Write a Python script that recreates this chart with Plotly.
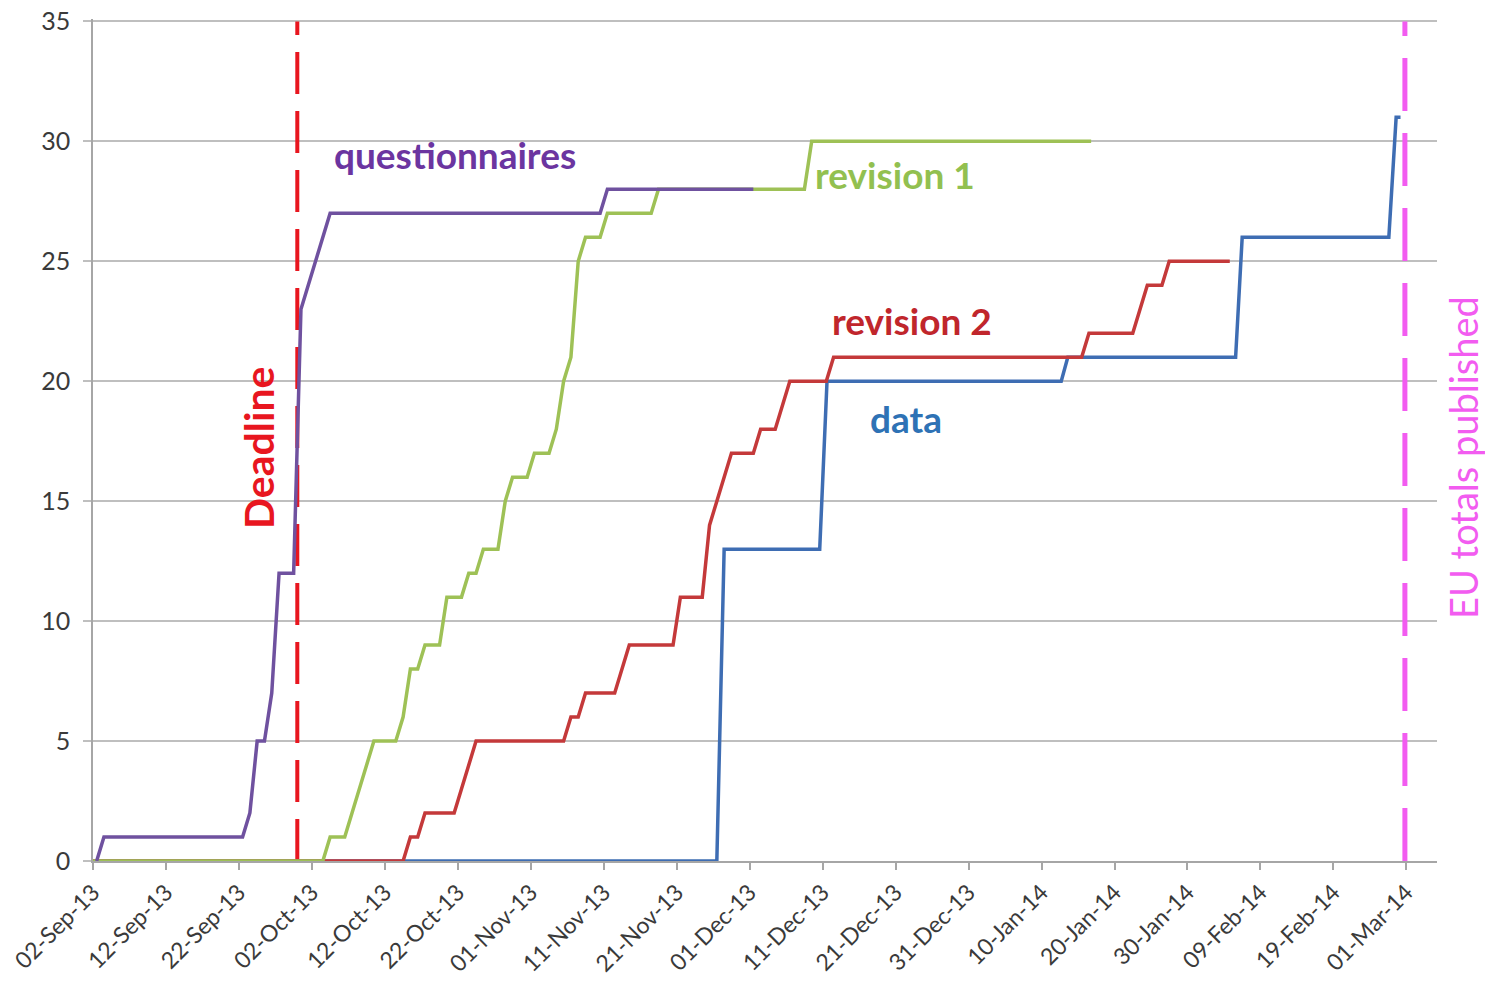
import pandas as pd
import plotly.graph_objects as go

# ---- data (day offsets from 02-Sep-13, cumulative counts) ----
start_date = "2013-09-02"

quest_days = [0.5, 1.5, 20.5, 21.5, 22.5, 23.5, 24.5, 25.5, 27.5, 28.5, 29.5, 30.5, 31.5, 32.5, 69.5, 70.5, 90.5]
quest_vals = [0, 1, 1, 2, 5, 5, 7, 12, 12, 23, 24, 25, 26, 27, 27, 28, 28]

rev1_days = [0.0, 31.5, 32.5, 34.5, 35.5, 36.5, 37.5, 38.5, 41.5, 42.5, 43.5, 44.5, 45.5, 47.5, 48.5, 50.5,
             51.5, 52.5, 53.5, 55.5, 56.5, 57.5, 59.5, 60.5, 62.5, 63.5, 64.5, 65.5, 66.5, 67.5, 69.5, 70.5,
             76.5, 77.5, 97.5, 98.5, 136.8]
rev1_vals = [0, 0, 1, 1, 2, 3, 4, 5, 5, 6, 8, 8, 9, 9, 11, 11,
             12, 12, 13, 13, 15, 16, 16, 17, 17, 18, 20, 21, 25, 26, 26, 27,
             27, 28, 28, 30, 30]

rev2_days = [0.0, 42.5, 43.5, 44.5, 45.5, 49.5, 50.5, 51.5, 52.5, 64.5, 65.5, 66.5, 67.5, 71.5, 72.5, 73.5,
             79.5, 80.5, 83.5, 84.5, 85.5, 86.5, 87.5, 90.5, 91.5, 93.5, 94.5, 95.5, 100.5, 101.5, 135.5,
             136.5, 142.5, 143.5, 144.5, 146.5, 147.5, 155.8]
rev2_vals = [0, 0, 1, 1, 2, 2, 3, 4, 5, 5, 6, 6, 7, 7, 8, 9,
             9, 11, 11, 14, 15, 16, 17, 17, 18, 18, 19, 20, 20, 21, 21,
             22, 22, 23, 24, 24, 25, 25]

data_days = [0.0, 85.5, 86.5, 99.6, 100.6, 132.7, 133.6, 156.6, 157.5, 177.6, 178.6, 179.2]
data_vals = [0, 0, 13, 13, 20, 20, 21, 21, 26, 26, 31, 31]

y_ticks = [0, 5, 10, 15, 20, 25, 30, 35]

deadline_day = 28.0        # 30-Sep-13
published_day = 179.8      # EU totals published
axis_end_day = 184.2
y_top = 35.1               # a hair above 35 so the top gridline is drawn

# ---- helpers ----
base = pd.Timestamp(start_date)


def to_dates(days):
    return [base + pd.to_timedelta(d, unit="D") for d in days]


fig = go.Figure()

series = [
    ("data", data_days, data_vals, "#3E6DB3"),
    ("revision 2", rev2_days, rev2_vals, "#C4393A"),
    ("revision 1", rev1_days, rev1_vals, "#9EC156"),
    ("questionnaires", quest_days, quest_vals, "#6F519F"),
]
for name, d, v, c in series:
    fig.add_trace(go.Scatter(
        x=to_dates(d), y=v, mode="lines", name=name,
        line=dict(color=c, width=3.5), cliponaxis=False, showlegend=False,
    ))

# vertical markers
fig.add_shape(type="line", xref="x", yref="y",
              x0=to_dates([deadline_day])[0], x1=to_dates([deadline_day])[0], y0=0, y1=35,
              line=dict(color="#E8161F", width=4, dash="42px,17px"), layer="between")
fig.add_shape(type="line", xref="x", yref="y",
              x0=to_dates([published_day])[0], x1=to_dates([published_day])[0], y0=0, y1=35,
              line=dict(color="#F25CF0", width=5, dash="53px,22px"), layer="between")

labels = [
    ("questionnaires", 49.6, 29.45, "#6B35A0", 0, 37),
    ("revision 1", 109.9, 28.6, "#92C050", 0, 37),
    ("revision 2", 112.2, 22.55, "#C0262C", 0, 37),
    ("data", 111.4, 18.45, "#2E72B5", 0, 37),
    ("Deadline", 22.6, 17.25, "#E8161F", -90, 41),
]
for text, dx, yv, col, ang, sz in labels:
    fig.add_annotation(
        x=to_dates([dx])[0], y=yv, xref="x", yref="y", text="<b>%s</b>" % text,
        showarrow=False, textangle=ang,
        font=dict(family="Lato", size=sz, color=col),
        xanchor="center", yanchor="middle",
    )

# full-window figure; plot area at x 93..1437, y ~19..861 (35 lands at y=21)
W, H = 1485, 987
L, T, R, B = 93, 19, 48, 126
plot_w = W - L - R
plot_h = H - T - B

fig.add_annotation(
    x=(1463 - L) / plot_w, y=(H - B - 458) / plot_h, xref="paper", yref="paper",
    text="EU totals published",
    showarrow=False, textangle=-90,
    font=dict(family="Lato", size=38, color="#F25CF0"),
    xanchor="center", yanchor="middle",
)

fig.update_layout(
    width=W, height=H,
    margin=dict(l=L, r=R, t=T, b=B, autoexpand=False),
    paper_bgcolor="white", plot_bgcolor="white",
    font=dict(family="Lato", color="#3A3A3A"),
    xaxis=dict(
        type="date", automargin=False,
        range=[to_dates([0])[0], to_dates([axis_end_day])[0]],
        tick0=start_date, dtick=10 * 86400000, tickformat="%d-%b-%y",
        tickangle=-45, tickfont=dict(size=23, color="#3A3A3A"),
        ticks="outside", ticklen=7, tickcolor="#A6A6A6", tickwidth=1.5,
        showline=True, linecolor="#A6A6A6", linewidth=1.5,
        showgrid=False, zeroline=False,
    ),
    yaxis=dict(
        range=[0, y_top], tickmode="array", tickvals=y_ticks,
        ticktext=[str(v) for v in y_ticks], automargin=False,
        ticklabeloverflow="allow",
        tickfont=dict(size=25, color="#3A3A3A"), ticklabelstandoff=8,
        ticks="outside", ticklen=8, tickcolor="#BFBFBF", tickwidth=1.5,
        showline=True, linecolor="#A6A6A6", linewidth=1.5,
        showgrid=True, gridcolor="#BFBFBF", gridwidth=1.5, zeroline=False,
    ),
)

# remove the default page margin so the figure fills the window exactly
fig.write_html("out.html", config={"displayModeBar": False},
               post_script="document.body.style.margin='0';")
